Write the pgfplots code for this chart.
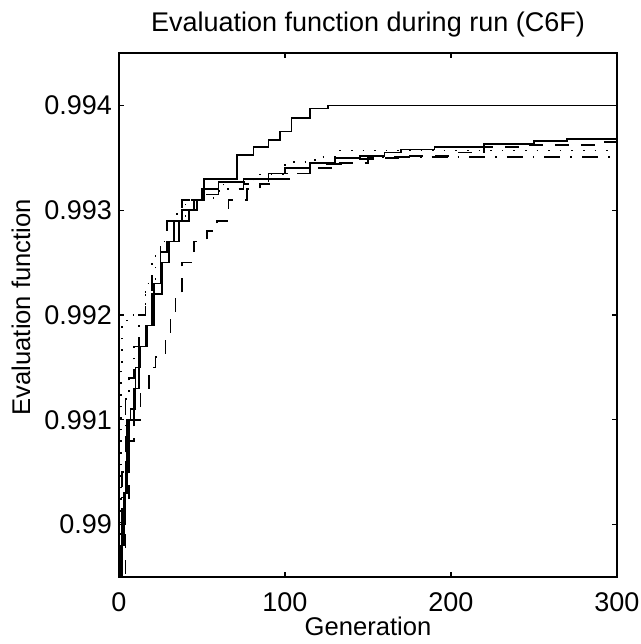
\documentclass[border=0pt]{standalone}
\usepackage{pgfplots}
\pgfplotsset{compat=1.18}
\usepackage{fontspec}
\setmainfont{Liberation Sans}
\begin{document}
\begin{tikzpicture}
\useasboundingbox (-59.5pt,-33.5pt) rectangle (261pt,288.5pt);
\begin{axis}[
  scale only axis, width=249pt, height=262pt,
  xmin=0, xmax=300, ymin=0.9895, ymax=0.9945,
  xtick={0,100,200,300},
  ytick={0.99,0.991,0.992,0.993,0.994},
  yticklabels={0.99,0.991,0.992,0.993,0.994},
  tick align=inside, major tick length=2.5pt,
  axis line style={line width=0.7pt},
  every tick/.style={line width=0.6pt, black},
  /pgf/number format/assume math mode=true,
  tick label style={font=\fontsize{13.5}{16}\selectfont},
  xticklabel style={yshift=-4.25pt},
  label style={font=\fontsize{12.8}{15}\selectfont},
  xlabel={Generation},
  ylabel={Evaluation function},
  xlabel style={at={(axis description cs:0.5,-0.095)}, anchor=center},
  ylabel style={at={(axis description cs:-0.197,0.515)}, anchor=center},
  title={Evaluation function during run (C6F)},
  title style={font=\fontsize{13.5}{16}\selectfont, at={(axis description cs:0.5,1)}, anchor=base, yshift=5pt},
]
% solid, top
\addplot[black, line width=0.85pt, const plot, solid] coordinates {(0,0.9886) (1,0.9898) (3,0.9903) (5,0.9910) (7,0.9911) (10,0.9915) (13,0.9917) (17,0.9919) (20,0.9922) (26,0.9925) (30,0.9927) (36,0.9929) (42,0.9930) (47,0.9931) (51,0.9933) (71,0.99353) (81,0.9936) (90,0.99367) (97,0.99375) (104,0.99388) (115,0.99397) (126,0.9940) (300,0.9940)};
% solid, second
\addplot[black, line width=0.85pt, const plot, solid] coordinates {(0,0.9888) (2,0.9900) (4,0.9906) (6,0.9910) (9,0.9913) (12,0.9917) (16,0.9919) (21,0.9923) (25,0.9926) (29,0.9927) (33,0.9929) (38,0.9930) (45,0.9931) (50,0.9932) (60,0.99327) (75,0.9933) (90,0.99335) (100,0.9934) (115,0.99345) (130,0.9935) (145,0.99352) (160,0.99355) (170,0.99358) (190,0.9936) (220,0.99363) (250,0.99366) (270,0.99368) (300,0.99368)};
% dashed
\addplot[black, line width=0.85pt, const plot, dash pattern=on 7pt off 6pt] coordinates {(0,0.9886) (2,0.9895) (4,0.9902) (6,0.9908) (9,0.9910) (13,0.9913) (18,0.9915) (22,0.9916) (28,0.9918) (31,0.9920) (34,0.9922) (38,0.9925) (45,0.9927) (53,0.9928) (59,0.9929) (66,0.9931) (77,0.9932) (85,0.99325) (95,0.9933) (105,0.99335) (115,0.9934) (130,0.99345) (150,0.9935) (175,0.99352) (200,0.99355) (220,0.9936) (245,0.99362) (290,0.99365) (300,0.99365)};
% dotted
\addplot[black, line width=0.85pt, const plot, dash pattern=on 0.8pt off 5pt] coordinates {(0,0.9887) (1,0.9915) (2,0.9919) (5,0.9920) (12,0.9920) (16,0.9923) (22,0.9926) (25,0.9927) (33,0.9929) (40,0.9931) (57,0.99318) (63,0.99327) (81,0.99334) (100,0.99346) (118,0.99351) (131,0.99357) (300,0.99357)};
% dash-dot
\addplot[black, line width=0.85pt, const plot, dash pattern=on 8pt off 5pt on 0.8pt off 5pt] coordinates {(0,0.9886) (1,0.9893) (2,0.9905) (4,0.9912) (6,0.9914) (9,0.9917) (12,0.9920) (16,0.9922) (20,0.9925) (25,0.9927) (29,0.9929) (35,0.9930) (38,0.9931) (50,0.99315) (60,0.9932) (75,0.99325) (90,0.9933) (100,0.99335) (115,0.9934) (123,0.99344) (140,0.99349) (153,0.99351) (300,0.99351)};
\end{axis}
\end{tikzpicture}
\end{document}
